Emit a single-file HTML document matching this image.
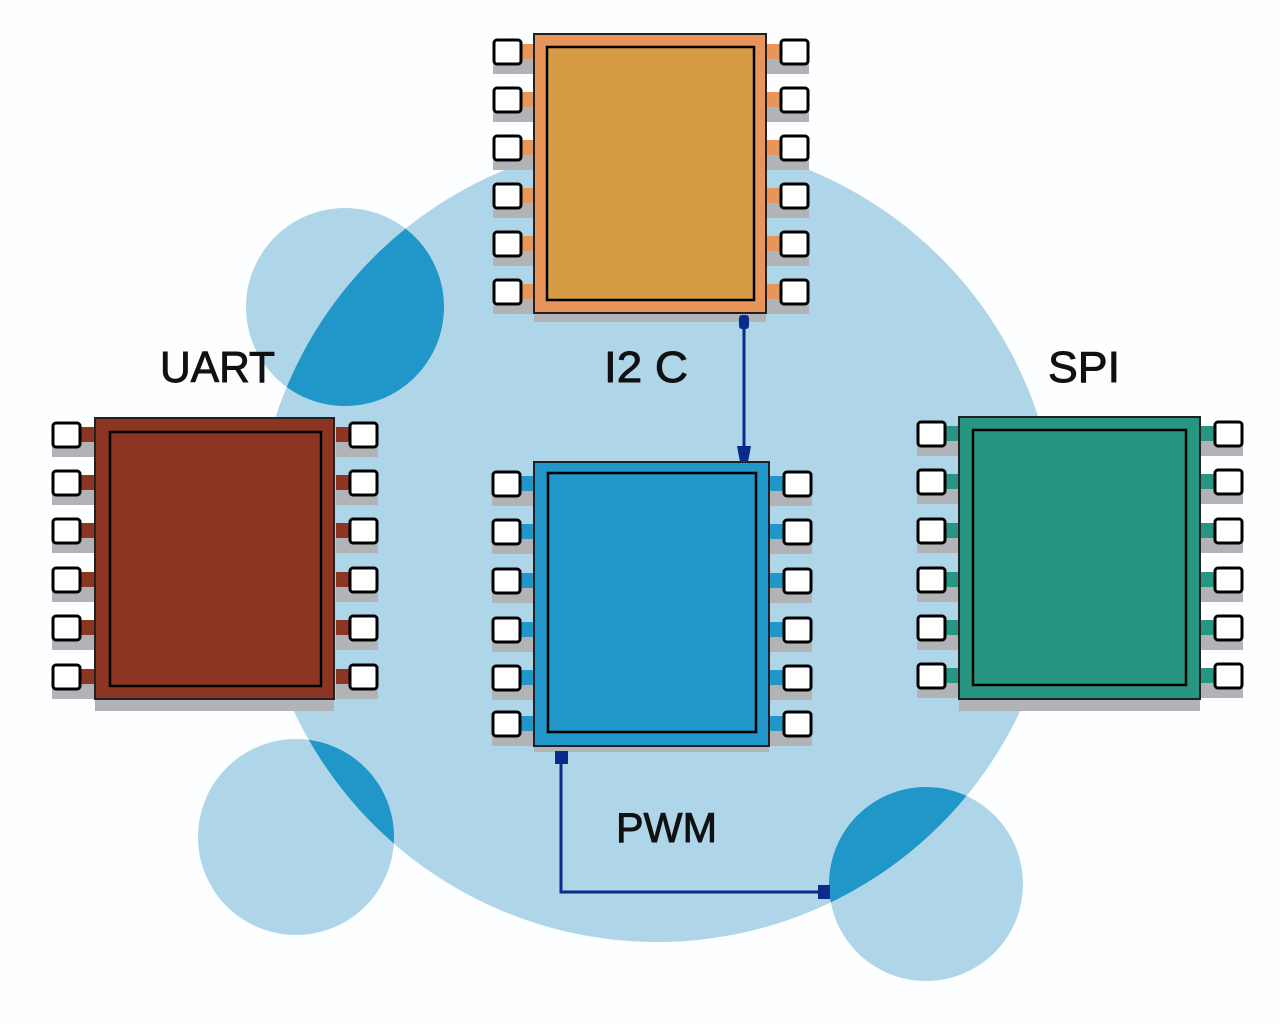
<!DOCTYPE html>
<html><head><meta charset="utf-8"><style>
html,body{margin:0;padding:0;background:#fdfeff;}
svg{display:block;}
text{font-family:"Liberation Sans",sans-serif;fill:#111;stroke:#111;stroke-width:0.9;}
</style></head><body>
<svg width="1280" height="1024" viewBox="0 0 1280 1024" xmlns="http://www.w3.org/2000/svg">
<defs>
<clipPath id="big"><circle cx="657" cy="541" r="401"/></clipPath>
<g id="pl">
<rect x="0" y="6" width="42" height="16" fill="#b1b3b7"/>
<rect x="27" y="-8" width="15" height="15" fill="currentColor"/>
<rect x="1" y="-12" width="27" height="24" rx="3" fill="#fff" stroke="#000" stroke-width="3"/>
</g>
</defs>
<rect width="1280" height="1024" fill="#fdfeff"/>
<circle cx="657" cy="541" r="401" fill="#afd6e8"/>
<circle cx="345" cy="307" r="99" fill="#afd6e8"/>
<circle cx="296" cy="837" r="98" fill="#afd6e8"/>
<circle cx="926" cy="884" r="97" fill="#afd6e8"/>
<g clip-path="url(#big)" fill="#2196c8">
<circle cx="345" cy="307" r="99"/>
<circle cx="296" cy="837" r="98"/>
<circle cx="926" cy="884" r="97"/>
</g>

<g color="#e8955a">
<use href="#pl" x="493" y="52"/><use href="#pl" x="493" y="100"/><use href="#pl" x="493" y="148"/>
<use href="#pl" x="493" y="196"/><use href="#pl" x="493" y="244"/><use href="#pl" x="493" y="292"/>
<g transform="translate(809,0) scale(-1,1)">
<use href="#pl" x="0" y="52"/><use href="#pl" x="0" y="100"/><use href="#pl" x="0" y="148"/>
<use href="#pl" x="0" y="196"/><use href="#pl" x="0" y="244"/><use href="#pl" x="0" y="292"/>
</g>
<rect x="534" y="313" width="232" height="9" fill="#b1b3b7"/>
<rect x="534" y="34" width="232" height="279" fill="#e8955a" stroke="#222" stroke-width="2"/>
<rect x="547" y="47" width="207" height="253" fill="#d69b45" stroke="#000" stroke-width="2.5"/>
</g>

<g color="#2196c8">
<use href="#pl" x="492" y="484"/><use href="#pl" x="492" y="532"/><use href="#pl" x="492" y="581"/>
<use href="#pl" x="492" y="630"/><use href="#pl" x="492" y="678"/><use href="#pl" x="492" y="724"/>
<g transform="translate(812,0) scale(-1,1)">
<use href="#pl" x="0" y="484"/><use href="#pl" x="0" y="532"/><use href="#pl" x="0" y="581"/>
<use href="#pl" x="0" y="630"/><use href="#pl" x="0" y="678"/><use href="#pl" x="0" y="724"/>
</g>
<rect x="534" y="746" width="235" height="6" fill="#b1b3b7"/>
<rect x="534" y="462" width="235" height="284" fill="#2196c8" stroke="#222" stroke-width="2"/>
<rect x="548" y="473" width="208" height="259" fill="#2196c8" stroke="#000" stroke-width="2.5"/>
</g>

<g color="#8b3522">
<use href="#pl" x="52" y="435"/><use href="#pl" x="52" y="483"/><use href="#pl" x="52" y="531"/>
<use href="#pl" x="52" y="580"/><use href="#pl" x="52" y="628"/><use href="#pl" x="52" y="677"/>
<g transform="translate(378,0) scale(-1,1)">
<use href="#pl" x="0" y="435"/><use href="#pl" x="0" y="483"/><use href="#pl" x="0" y="531"/>
<use href="#pl" x="0" y="580"/><use href="#pl" x="0" y="628"/><use href="#pl" x="0" y="677"/>
</g>
<rect x="95" y="699" width="239" height="12" fill="#b1b3b7"/>
<rect x="95" y="418" width="239" height="281" fill="#8b3522" stroke="#222" stroke-width="2"/>
<rect x="110" y="432" width="211" height="254" fill="#8b3522" stroke="#000" stroke-width="2.5"/>
</g>

<g color="#269582">
<use href="#pl" x="917" y="434"/><use href="#pl" x="917" y="482"/><use href="#pl" x="917" y="531"/>
<use href="#pl" x="917" y="580"/><use href="#pl" x="917" y="628"/><use href="#pl" x="917" y="676"/>
<g transform="translate(1243,0) scale(-1,1)">
<use href="#pl" x="0" y="434"/><use href="#pl" x="0" y="482"/><use href="#pl" x="0" y="531"/>
<use href="#pl" x="0" y="580"/><use href="#pl" x="0" y="628"/><use href="#pl" x="0" y="676"/>
</g>
<rect x="959" y="699" width="241" height="12" fill="#b1b3b7"/>
<rect x="959" y="417" width="241" height="282" fill="#269582" stroke="#222" stroke-width="2"/>
<rect x="973" y="430" width="213" height="255" fill="#269582" stroke="#000" stroke-width="2.5"/>
</g>

<g stroke="#0a2a8c" fill="none" stroke-width="3">
<line x1="744" y1="322" x2="744" y2="452"/>
<polyline points="561,760 561,892 824,892"/>
</g>
<g fill="#0a2a8c">
<rect x="739" y="315" width="10" height="14" rx="3"/>
<polygon points="737,446 751,446 748,462 740,462"/>
<rect x="555" y="751" width="13" height="13"/>
<rect x="818" y="885" width="12" height="14"/>
</g>

<text x="160" y="382" font-size="44" textLength="115" lengthAdjust="spacingAndGlyphs">UART</text>
<text x="604" y="382" font-size="44" textLength="84" lengthAdjust="spacingAndGlyphs">I2 C</text>
<text x="1048" y="382" font-size="44" textLength="72" lengthAdjust="spacingAndGlyphs">SPI</text>
<text x="616" y="842" font-size="42" textLength="101" lengthAdjust="spacingAndGlyphs">PWM</text>
</svg>
</body></html>
